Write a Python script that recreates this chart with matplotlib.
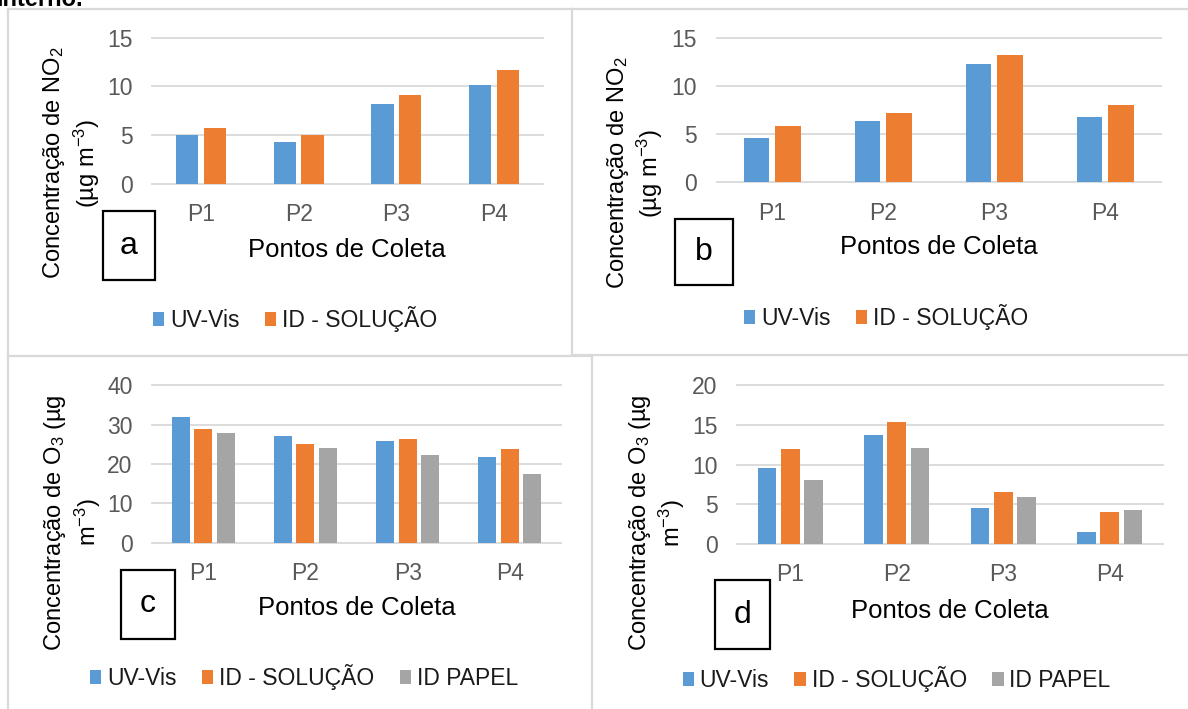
import matplotlib
matplotlib.use("Agg")
import matplotlib.pyplot as plt
from matplotlib.patches import Rectangle
from matplotlib.lines import Line2D

plt.rcParams['font.family'] = ['Liberation Sans', 'DejaVu Sans']
plt.rcParams['mathtext.fontset'] = 'custom'
plt.rcParams['mathtext.rm'] = 'Liberation Sans'
plt.rcParams['mathtext.it'] = 'Liberation Sans:italic'

# collection points
cats = ['P1', 'P2', 'P3', 'P4']

# NO2 (a, b)
no2_a_uv = [5.0, 4.3, 8.2, 10.15]
no2_a_sol = [5.75, 5.0, 9.1, 11.7]
no2_b_uv = [4.6, 6.4, 12.25, 6.75]
no2_b_sol = [5.85, 7.2, 13.2, 8.05]

# O3 (c, d)
o3_c_uv = [32.0, 27.0, 25.8, 21.85]
o3_c_sol = [28.8, 25.1, 26.35, 23.7]
o3_c_pap = [27.95, 24.1, 22.3, 17.45]
o3_d_uv = [9.55, 13.75, 4.5, 1.5]
o3_d_sol = [12.0, 15.35, 6.55, 4.05]
o3_d_pap = [8.05, 12.15, 5.9, 4.3]

series_names = ['UV-Vis', 'ID - SOLUÇÃO', 'ID PAPEL']
colors = ['#5B9BD5', '#ED7D31', '#A5A5A5']

W, H = 1188, 709
fig = plt.figure(figsize=(W / 100, H / 100), dpi=100)

GRID = '#D9D9D9'
TICK = '#595959'


def fx(x):
    return x / W


def fy(y):
    return 1 - y / H


def panel_axes(l, t, r, b):
    return fig.add_axes([fx(l), fy(b), (r - l) / W, (b - t) / H])


def bar_panel(ax, series, ymax, ystep, width, offsets):
    xs = range(len(cats))
    handles = []
    for vals, off, c in zip(series, offsets, colors):
        h = ax.bar([x + off for x in xs], vals, width, color=c, zorder=2)
        handles.append(h)
    ax.set_xlim(-0.5, len(cats) - 0.5)
    ax.set_ylim(0, ymax)
    ticks = list(range(0, ymax + 1, ystep))
    for v in ticks:
        ax.axhline(v, color=GRID, lw=1.3, zorder=0, clip_on=False)
    ax.set_yticks(ticks)
    ax.set_xticks(list(xs))
    ax.set_xticklabels(cats)
    ax.tick_params(length=0, labelsize=16.5, colors=TICK, pad=14)
    for s in ax.spines.values():
        s.set_visible(False)
    return handles


def panel_label(letter, l, t, r, b):
    fig.add_artist(Rectangle((fx(l), fy(b)), (r - l) / W, (b - t) / H,
                             transform=fig.transFigure, fill=False,
                             edgecolor='black', lw=1.6))
    fig.text(fx((l + r) / 2), fy((t + b) / 2), letter, fontsize=23,
             ha='center', va='center')


def legend(handles, n, cx, cy):
    fig.legend(handles, series_names[:n], loc='center',
               bbox_to_anchor=(fx(cx), fy(cy)), ncol=n, frameon=False,
               fontsize=16.5, handlelength=0.5, handleheight=0.55,
               handletextpad=0.25, columnspacing=1.1, labelcolor='#1a1a1a')


# panel frames
for seg in [((8, 572), (9, 9)), ((572, 1188), (9, 9)),
            ((8, 8), (9, 709)), ((572, 572), (9, 355)),
            ((8, 592), (356, 356)), ((572, 1188), (355, 355)),
            ((592, 592), (356, 709))]:
    (x0, x1), (y0, y1) = seg
    fig.add_artist(Line2D([fx(x0), fx(x1)], [fy(y0), fy(y1)],
                          transform=fig.transFigure, color=GRID, lw=1.6))

fig.text(fx(-4), fy(6), 'interno.', fontsize=17, fontweight='bold',
         ha='left', va='baseline')

two_w, two_off = 0.23, [-0.142, 0.142]
three_w, three_off = 0.175, [-0.22, 0.0, 0.22]

# a
ax = panel_axes(152, 37.7, 543, 183.7)
h = bar_panel(ax, [no2_a_uv, no2_a_sol], 15, 5, two_w, two_off)
fig.text(fx(347), fy(250), 'Pontos de Coleta', fontsize=18.5,
         ha='center', va='center')
fig.text(fx(71.7), fy(163), 'Concentração de NO$_2$\n(µg m$^{-3}$)',
         rotation=90, fontsize=17, ha='center', va='center',
         multialignment='center')
legend(h, 2, 295, 319)
panel_label('a', 103, 211, 155, 280)

# b
ax = panel_axes(716.6, 37.7, 1161, 182.3)
h = bar_panel(ax, [no2_b_uv, no2_b_sol], 15, 5, two_w, two_off)
fig.text(fx(939), fy(247), 'Pontos de Coleta', fontsize=18.5,
         ha='center', va='center')
fig.text(fx(635), fy(173), 'Concentração de NO$_2$\n(µg m$^{-3}$)',
         rotation=90, fontsize=17, ha='center', va='center',
         multialignment='center')
legend(h, 2, 886, 317)
panel_label('b', 674.5, 219, 733, 285)

# c
ax = panel_axes(152, 385.3, 561, 542.7)
h = bar_panel(ax, [o3_c_uv, o3_c_sol, o3_c_pap], 40, 10, three_w, three_off)
fig.text(fx(356.5), fy(608), 'Pontos de Coleta', fontsize=18.5,
         ha='center', va='center')
fig.text(fx(72.7), fy(522.5), 'Concentração de O$_3$ (µg\nm$^{-3}$)',
         rotation=90, fontsize=17, ha='center', va='center',
         multialignment='center')
legend(h, 3, 304, 677)
panel_label('c', 120.5, 569.5, 174.5, 639)

# d
ax = panel_axes(737, 385.3, 1163, 544)
h = bar_panel(ax, [o3_d_uv, o3_d_sol, o3_d_pap], 20, 5, three_w, three_off)
fig.text(fx(950), fy(611), 'Pontos de Coleta', fontsize=18.5,
         ha='center', va='center')
fig.text(fx(657), fy(523), 'Concentração de O$_3$ (µg\nm$^{-3}$)',
         rotation=90, fontsize=17, ha='center', va='center',
         multialignment='center')
legend(h, 3, 896.5, 679)
panel_label('d', 714.7, 580, 770, 649.3)

fig.savefig('out.png', dpi=100)
